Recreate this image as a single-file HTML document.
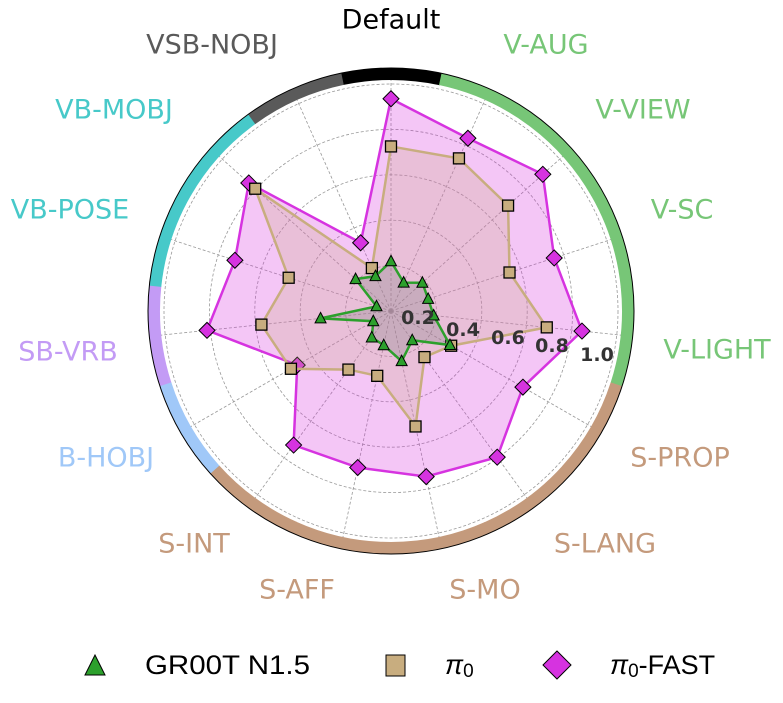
<!DOCTYPE html>
<html><head><meta charset="utf-8"><style>
html,body{margin:0;padding:0;background:#fff;width:783px;height:703px;overflow:hidden}
svg{display:block;font-family:"DejaVu Sans","Liberation Sans",sans-serif}
</style></head><body>
<svg id="s" width="783" height="703" viewBox="0 0 783 703" xmlns="http://www.w3.org/2000/svg">
<g id="grid"></g>
<g id="data"></g>
<g font-size="19" font-weight="bold" fill="#333" text-anchor="middle" dominant-baseline="central">
<text x="418" y="318">0.2</text><text x="463" y="330">0.4</text><text x="508" y="338">0.6</text><text x="552" y="346">0.8</text><text x="597" y="355">1.0</text>
</g>
<g font-size="27" text-anchor="middle" dominant-baseline="central">
<text x="391" y="20" fill="#000">Default</text>
<text x="546" y="45" fill="#77c677">V-AUG</text>
<text x="643" y="110" fill="#77c677">V-VIEW</text>
<text x="682" y="210" fill="#77c677">V-SC</text>
<text x="717" y="350" fill="#77c677">V-LIGHT</text>
<text x="680" y="458" fill="#c49a7c">S-PROP</text>
<text x="605" y="544" fill="#c49a7c">S-LANG</text>
<text x="485" y="590" fill="#c49a7c">S-MO</text>
<text x="297" y="590" fill="#c49a7c">S-AFF</text>
<text x="194" y="544" fill="#c49a7c">S-INT</text>
<text x="106" y="458" fill="#a0c8f8">B-HOBJ</text>
<text x="68" y="352" fill="#c39bf5">SB-VRB</text>
<text x="70" y="210" fill="#47c9c9">VB-POSE</text>
<text x="114" y="110" fill="#47c9c9">VB-MOBJ</text>
<text x="212" y="45" fill="#5a5a5a">VSB-NOBJ</text>
</g>
<g font-size="27" dominant-baseline="central" font-family="Liberation Sans, sans-serif">
<polygon points="95,655 85,675 105,675" fill="#2ca02c" stroke="#000" stroke-width="1"/>
<text x="145" y="665" textLength="165" lengthAdjust="spacingAndGlyphs">GR00T N1.5</text>
<rect x="386" y="655" width="19" height="21" fill="#c8ad7f" stroke="#000" stroke-width="1"/>
<text x="445" y="665" font-style="italic">π<tspan font-size="19" dy="6" font-style="normal">0</tspan></text>
<polygon points="557,651 571,665 557,679 543,665" fill="#d633e0" stroke="#000" stroke-width="1"/>
<text x="610" y="665"><tspan font-style="italic">π</tspan><tspan font-size="19" dy="6">0</tspan><tspan dy="-6">-FAST</tspan></text>
</g>
</svg>
<script>
var cx=391,cy=311,R=227,NS="http://www.w3.org/2000/svg";
function el(p,t,a){var e=document.createElementNS(NS,t);for(var k in a)e.setAttribute(k,a[k]);p.appendChild(e);return e;}
var g=document.getElementById('grid'),d=document.getElementById('data');
function pt(i,v){var a=i*24*Math.PI/180;return [cx+R*v*Math.sin(a),cy-R*v*Math.cos(a)];}
[0.2,0.4,0.6,0.8,1.0].forEach(function(r){el(g,'circle',{cx:cx,cy:cy,r:R*r,fill:'none',stroke:'#999','stroke-width':0.8,'stroke-dasharray':'3,2'});});
for(var i=0;i<15;i++){var p=pt(i,243/227);el(g,'line',{x1:cx,y1:cy,x2:p[0],y2:p[1],stroke:'#999','stroke-width':0.8,'stroke-dasharray':'3,2'});}
var cols=['#000','#77c677','#77c677','#77c677','#77c677','#c49a7c','#c49a7c','#c49a7c','#c49a7c','#c49a7c','#a0c8f8','#c39bf5','#47c9c9','#47c9c9','#5a5a5a'];
var rb=237;
for(var i=0;i<15;i++){var a1=(i*24-12)*Math.PI/180,a2=(i*24+12.2)*Math.PI/180;
el(g,'path',{d:'M'+(cx+rb*Math.sin(a1))+','+(cy-rb*Math.cos(a1))+' A'+rb+','+rb+' 0 0 1 '+(cx+rb*Math.sin(a2))+','+(cy-rb*Math.cos(a2)),fill:'none',stroke:cols[i],'stroke-width':12});}
el(g,'circle',{cx:cx,cy:cy,r:243,fill:'none',stroke:'#000','stroke-width':1});
var fast=[0.935,0.833,0.90,0.756,0.846,0.671,0.796,0.746,0.705,0.730,0.477,0.815,0.723,0.843,0.329];
var pi0=[0.725,0.736,0.694,0.549,0.69,0.306,0.251,0.52,0.292,0.319,0.509,0.574,0.474,0.805,0.207];
var gr=[0.219,0.137,0.186,0.172,0.189,0.30,0.159,0.226,0.154,0.144,0.09,0.312,0.067,0.21,0.168];
function series(vals,line,fill,fo,mk,mc){var pts=vals.map(function(v,i){return pt(i,v).join(',');}).join(' ');
el(d,'polygon',{points:pts,fill:fill,'fill-opacity':fo,stroke:'none'});
el(d,'polygon',{points:pts,fill:'none',stroke:line,'stroke-width':2.5,'stroke-linejoin':'miter'});
vals.forEach(function(v,i){var p=pt(i,v),x=p[0],y=p[1];
if(mk=='d')el(d,'polygon',{points:x+','+(y-8)+' '+(x+8)+','+y+' '+x+','+(y+8)+' '+(x-8)+','+y,fill:mc,stroke:'#000','stroke-width':1});
else if(mk=='s')el(d,'rect',{x:x-5.5,y:y-5.5,width:11,height:11,fill:mc,stroke:'#000','stroke-width':1.3});
else el(d,'polygon',{points:x+','+(y-6)+' '+(x+5.5)+','+(y+4.5)+' '+(x-5.5)+','+(y+4.5),fill:mc,stroke:'#000','stroke-width':1});});}
series(fast,'#d633e0','#d633e0',0.28,'d','#d633e0');
series(pi0,'#c8ad7f','#c8ad7f',0.25,'s','#c8ad7f');
series(gr,'#2ca02c','#808080',0.3,'t','#2ca02c');
</script>
</body></html>
